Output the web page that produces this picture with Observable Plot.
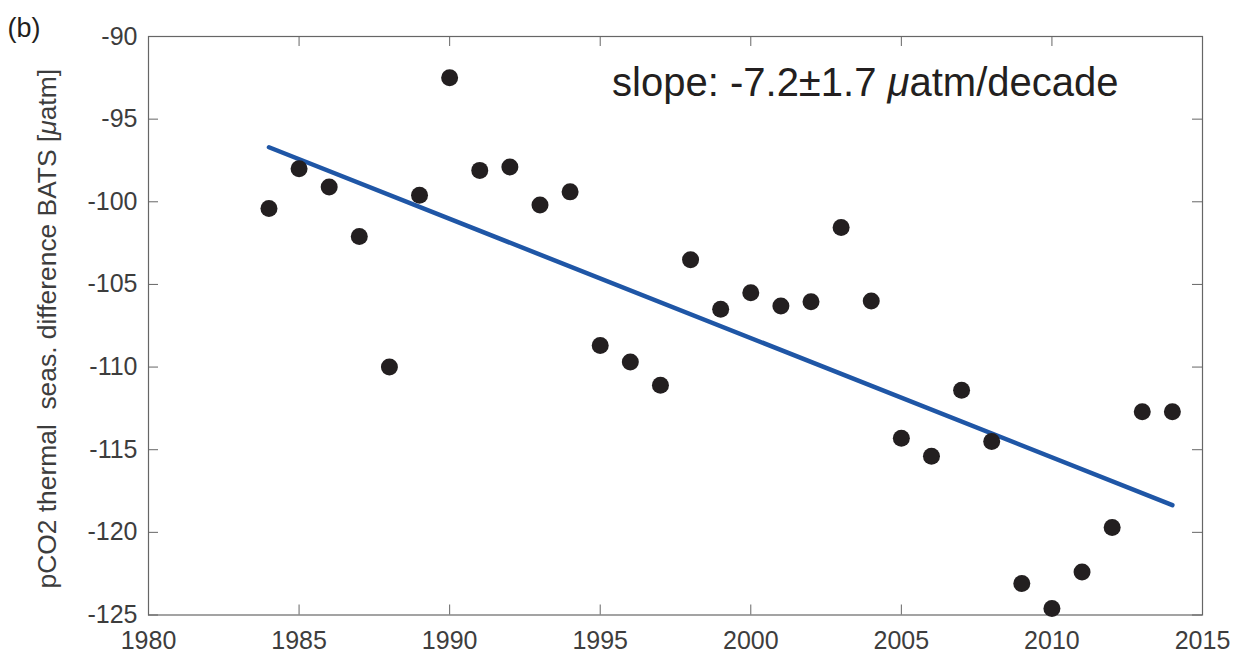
<!DOCTYPE html>
<html>
<head>
<meta charset="utf-8">
<script src="https://cdn.jsdelivr.net/npm/d3@7"></script>
<script src="https://cdn.jsdelivr.net/npm/@observablehq/plot@0.6"></script>
<style>
  html, body { margin: 0; padding: 0; background: #fff; }
</style>
</head>
<body>
<div id="chart"></div>
<script>
const years = [1984,1985,1986,1987,1988,1989,1990,1991,1992,1993,1994,1995,1996,1997,1998,1999,2000,2001,2002,2003,2004,2005,2006,2007,2008,2009,2010,2011,2012,2013,2014];
const values = [-100.4,-98.0,-99.1,-102.1,-110.0,-99.6,-92.5,-98.1,-97.9,-100.2,-99.4,-108.7,-109.7,-111.1,-103.5,-106.5,-105.5,-106.3,-106.05,-101.55,-106.0,-114.3,-115.4,-111.4,-114.5,-123.1,-124.6,-122.4,-119.7,-112.7,-112.7];
const trendYears = [1984, 2014];
const trendValues = [-96.7, -118.35];
const xTicks = [1980,1985,1990,1995,2000,2005,2010,2015];
const yTicks = [-125,-120,-115,-110,-105,-100,-95,-90];
const annotation = "slope: -7.2±1.7 μatm/decade";
const yLabel = "pCO2 thermal  seas. difference BATS [μatm]";
const panelLabel = "(b)";

const points = years.map((y, i) => ({year: y, value: values[i]}));
const trend = trendYears.map((y, i) => ({year: y, value: trendValues[i]}));

const W = 1237, H = 655;
const mL = 148, mT = 36, mR = 35, mB = 40.5;
const frameW = W - mL - mR, frameH = H - mT - mB;
const tickLen = 10;

const chart = Plot.plot({
  width: W,
  height: H,
  marginLeft: mL,
  marginTop: mT,
  marginRight: mR,
  marginBottom: mB,
  style: {fontFamily: "'Liberation Sans', Arial, Helvetica, sans-serif", fontSize: "25px", color: "#3d3d3d", background: "#fff"},
  x: {domain: [1980, 2015]},
  y: {domain: [-125, -90]},
  marks: [
    // inward ticks
    Plot.tickX(xTicks, {x: d => d, insetTop: frameH - tickLen, stroke: "#666", strokeWidth: 1}),
    Plot.tickX(xTicks, {x: d => d, insetBottom: frameH - tickLen, stroke: "#666", strokeWidth: 1}),
    Plot.tickY(yTicks, {y: d => d, insetRight: frameW - tickLen, stroke: "#666", strokeWidth: 1}),
    Plot.tickY(yTicks, {y: d => d, insetLeft: frameW - tickLen, stroke: "#666", strokeWidth: 1}),
    Plot.frame({stroke: "#666", strokeWidth: 1.2}),
    Plot.axisX({ticks: xTicks, tickSize: 0, tickPadding: 16.5, tickFormat: d => String(d), label: null}),
    Plot.axisY({ticks: yTicks, tickSize: 0, tickPadding: 11, tickFormat: d => String(d), label: null}),
    Plot.line(trend, {x: "year", y: "value", stroke: "#1f56a6", strokeWidth: 4.5}),
    Plot.dot(points, {x: "year", y: "value", r: 8.5, fill: "#231f20", stroke: "none"}),
    Plot.text([annotation], {frameAnchor: "top-right", text: d => d, textAnchor: "end", lineAnchor: "bottom", dx: -84, dy: 59, fontSize: 40, fill: "#231f20"}),
    Plot.text([yLabel], {frameAnchor: "left", text: d => d, rotate: -90, textAnchor: "middle", lineAnchor: "bottom", dx: -93, dy: 3, fontSize: 26.4, fill: "#3d3d3d"}),
    Plot.text([panelLabel], {frameAnchor: "top-left", text: d => d, textAnchor: "start", lineAnchor: "bottom", dx: -141, dy: 0, fontSize: 27, fill: "#231f20"})
  ]
});

// italicize the mu symbol
chart.querySelectorAll("text").forEach(t => {
  const s = t.textContent;
  if (s.includes("μ") && t.children.length === 0) {
    const parts = s.split("μ");
    t.textContent = "";
    parts.forEach((p, i) => {
      if (i > 0) {
        const m = document.createElementNS("http://www.w3.org/2000/svg", "tspan");
        m.setAttribute("font-style", "italic");
        m.textContent = "μ";
        t.appendChild(m);
      }
      const n = document.createElementNS("http://www.w3.org/2000/svg", "tspan");
      n.textContent = p;
      t.appendChild(n);
    });
  }
});

document.getElementById("chart").appendChild(chart);
</script>
</body>
</html>
